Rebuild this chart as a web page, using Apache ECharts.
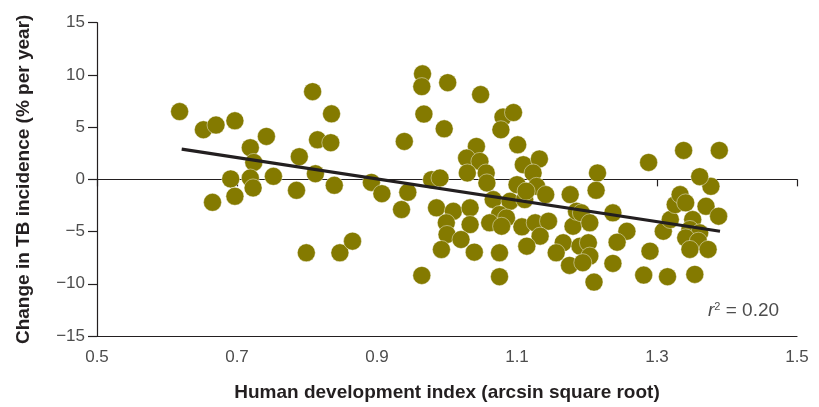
<!DOCTYPE html>
<html>
<head>
<meta charset="utf-8">
<script src="https://cdn.jsdelivr.net/npm/echarts@6/dist/echarts.min.js"></script>
<style>
  html, body { margin: 0; padding: 0; background: #fff; }
  #chart { width: 819px; height: 407px; }
</style>
</head>
<body>
<div id="chart"></div>
<script type="text/javascript">
// HDI (arcsin sqrt) vs change in TB incidence
var hdi = [
  0.618, 0.652, 0.670, 0.697, 0.742, 0.719, 0.724, 0.691, 0.719, 0.723,
  0.752, 0.697, 0.665, 0.808, 0.835, 0.815, 0.834, 0.789, 0.812, 0.785,
  0.839, 0.892, 0.907, 0.799, 0.847, 0.865,
  0.965, 0.964, 1.001, 1.048, 0.967, 0.996, 1.080, 1.095, 1.077, 0.939,
  1.101, 1.042, 1.028, 1.047, 1.029, 1.056, 1.057, 0.978, 0.990, 0.944,
  0.935, 0.985, 1.009, 1.033, 0.999, 1.033, 1.000, 1.020, 0.992, 1.039,
  0.964, 1.075, 1.075, 1.066, 1.090, 1.111, 1.075, 1.085, 1.061, 1.078,
  1.107, 1.126, 1.145, 1.133, 1.114, 1.109, 1.132, 1.123, 1.100, 1.128,
  1.141, 1.176, 1.166, 1.180, 1.156, 1.175, 1.185, 1.113,
  1.190, 1.202, 1.204, 1.194, 1.210, 1.215, 1.213, 1.192, 1.204, 1.237,
  1.257, 1.243, 1.237, 1.288, 1.290, 1.281, 1.315, 1.309, 1.319, 1.326,
  1.333, 1.338, 1.341, 1.351, 1.347, 1.361, 1.341, 1.359, 1.347, 1.373,
  1.354, 1.370, 1.388, 1.377, 1.361, 1.389
];
var tbChange = [
  6.49, 4.75, 5.20, 5.61, 4.11, 3.03, 1.62, 0.04, 0.13, -0.82,
  0.29, -1.62, -2.20, 8.40, 6.27, 3.79, 3.51, 2.17, 0.54, -1.05,
  -0.57, -0.29, -1.37, -7.03, -7.03, -5.92,
  10.10, 8.88, 9.26, 8.12, 6.25, 4.84, 5.96, 6.40, 4.75, 3.63,
  3.31, 3.15, 2.04, 1.72, 0.61, 0.61, -0.34, -0.03, 0.13, -1.24,
  -2.89, -2.73, -3.06, -2.73, -4.16, -4.33, -5.28, -5.76, -6.72, -6.97,
  -9.20, -7.03, -9.32, -1.94, -2.10, -1.94, -3.37, -3.69, -4.16, -4.49,
  -4.55, -4.16, -4.01, -5.44, -6.40, 1.40, 1.95, 0.61, -0.51, -0.67,
  -1.46, -1.46, -6.07, -4.49, -7.03, -8.24, -3.06, -1.13,
  -6.40, -6.07, -7.35, -7.98, -9.84, 0.61, -1.05, -3.21, -4.16, -3.21,
  -4.97, -6.02, -8.05, 1.62, -6.88, -9.17, -9.32, -4.97, -3.85, -2.42,
  -1.46, 2.77, -2.25, -3.85, -4.80, -5.12, -5.60, -5.92, -6.71, -6.71,
  -9.10, -2.58, -3.53, -0.67, 0.26, 2.77
];
var fitX = [0.621, 1.39];
var fitY = [2.90, -4.97];
var xTicks = [0.5, 0.7, 0.9, 1.1, 1.3, 1.5];
var yTicks = [-15, -10, -5, 0, 5, 10, 15];
var rSquared = '0.20';

var points = hdi.map(function (x, i) { return [x, tbChange[i]]; });
var fitLine = fitX.map(function (x, i) { return [x, fitY[i]]; });

var narrow = '"Liberation Sans Narrow", "Arial Narrow", "Liberation Sans", sans-serif';

var myChart = echarts.init(document.getElementById('chart'), null, { renderer: 'canvas' });
var option = {
  animation: false,
  backgroundColor: '#fff',
  grid: { left: 97, right: 22, top: 22.7, bottom: 70.3, containLabel: false },
  xAxis: [{
    // the line through y = 0, ticks only
    type: 'value', min: 0.5, max: 1.5, interval: 0.2,
    axisLine: { onZero: true, lineStyle: { color: '#231f20', width: 1.2 } },
    axisTick: { show: true, length: 7, lineStyle: { color: '#231f20', width: 1.2 } },
    axisLabel: { show: false },
    splitLine: { show: false }
  }, {
    // bottom frame line with labels
    type: 'value', min: 0.5, max: 1.5, interval: 0.2, position: 'bottom',
    name: 'Human development index (arcsin square root)',
    nameLocation: 'middle', nameGap: 47,
    nameTextStyle: { fontFamily: narrow, fontWeight: 'bold', fontSize: 19, color: '#231f20' },
    axisLine: { onZero: false, lineStyle: { color: '#231f20', width: 1.2 } },
    axisTick: { show: false },
    axisLabel: {
      margin: 13, fontFamily: narrow, fontSize: 17, color: '#4d4d4d',
      formatter: function (v) { return xTicks.indexOf(Math.round(v * 10) / 10) >= 0 ? v.toFixed(1) : ''; }
    },
    splitLine: { show: false }
  }],
  yAxis: {
    type: 'value', min: yTicks[0], max: yTicks[yTicks.length - 1], interval: 5,
    name: 'Change in TB incidence (% per year)',
    nameLocation: 'middle', nameGap: 64, nameRotate: 90,
    nameTextStyle: { fontFamily: narrow, fontWeight: 'bold', fontSize: 19, color: '#231f20' },
    axisLine: { show: true, onZero: false, lineStyle: { color: '#231f20', width: 1.2 } },
    axisTick: { show: true, length: 9, lineStyle: { color: '#231f20', width: 1.2 } },
    axisLabel: {
      margin: 12, fontFamily: narrow, fontSize: 17, color: '#4d4d4d',
      formatter: function (v) { return v < 0 ? '\u2212' + Math.abs(v) : String(v); }
    },
    splitLine: { show: false }
  },
  series: [{
    type: 'scatter',
    xAxisIndex: 0,
    data: points,
    symbol: 'circle',
    symbolSize: 18,
    itemStyle: { color: '#847a00', opacity: 1, borderColor: 'rgba(255,255,255,0.55)', borderWidth: 0.8 },
    z: 3
  }, {
    type: 'line',
    xAxisIndex: 0,
    data: fitLine,
    symbol: 'none',
    lineStyle: { color: '#231f20', width: 3.2 },
    z: 4
  }],
  graphic: [{
    type: 'text',
    left: 708, top: 301,
    style: {
      text: '{i|r}{s|2}{n| = ' + rSquared + '}',
      rich: {
        i: { fontFamily: narrow, fontStyle: 'italic', fontSize: 19, fill: '#4d4d4d' },
        s: { fontFamily: narrow, fontSize: 11, fill: '#4d4d4d', verticalAlign: 'top', padding: [0, 0, 9, 0] },
        n: { fontFamily: narrow, fontSize: 19, fill: '#4d4d4d' }
      }
    }
  }]
};
myChart.setOption(option);
</script>
</body>
</html>
